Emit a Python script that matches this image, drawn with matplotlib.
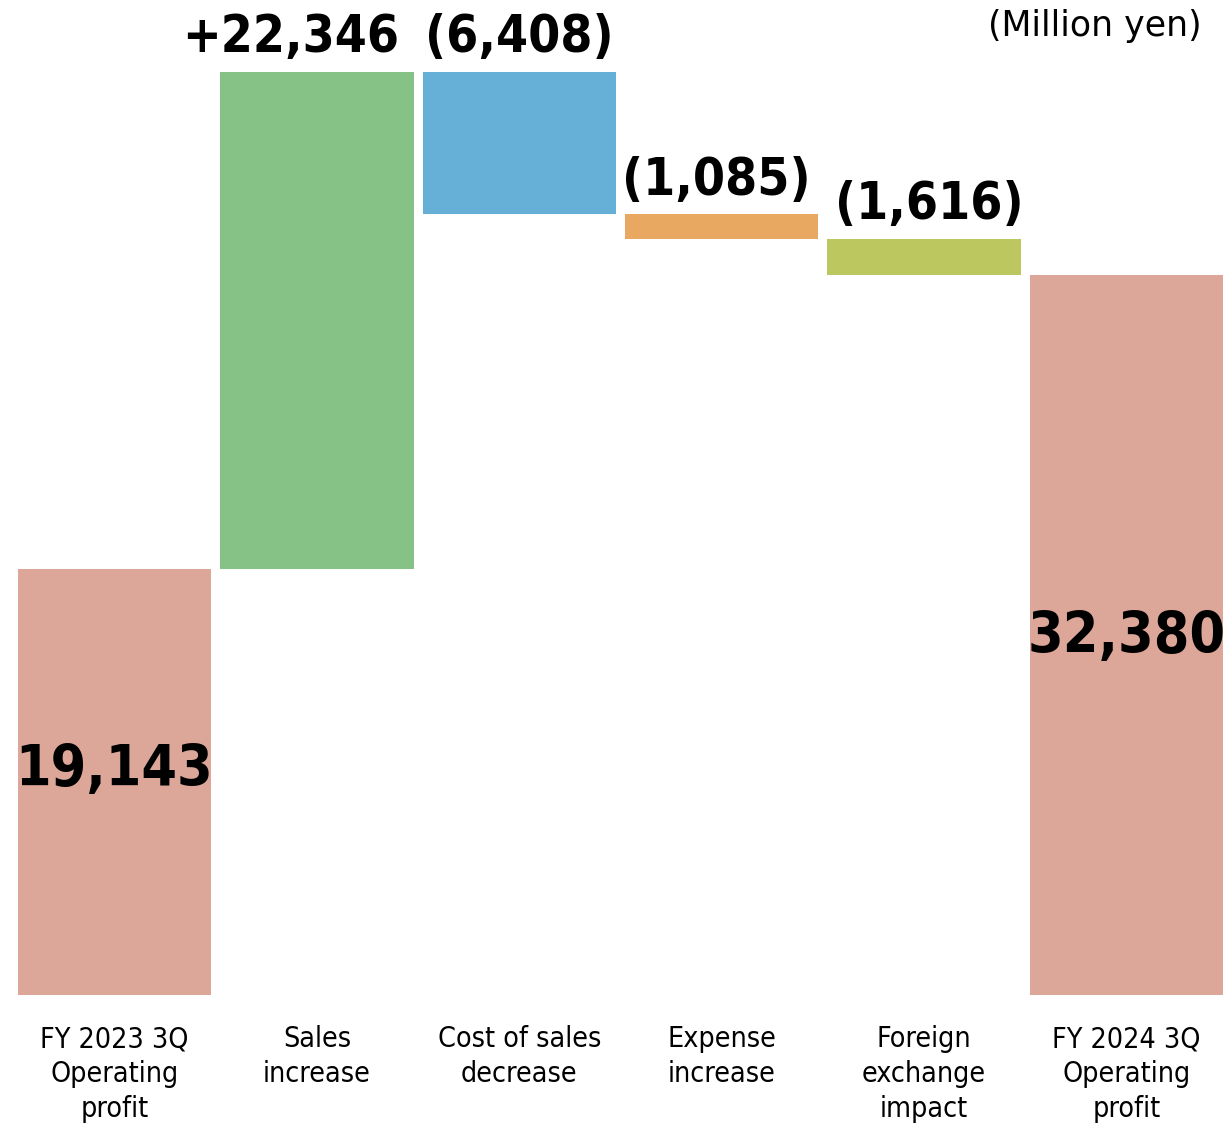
import matplotlib
matplotlib.use("Agg")
import matplotlib.pyplot as plt

categories = ["FY 2023 3Q\nOperating\nprofit", "Sales\nincrease", "Cost of sales\ndecrease",
              "Expense\nincrease", "Foreign\nexchange\nimpact", "FY 2024 3Q\nOperating\nprofit"]
changes = [19143, 22346, -6408, -1085, -1616, 32380]
value_labels = ["19,143", "+22,346", "(6,408)", "(1,085)", "(1,616)", "32,380"]
colors = ["#DCA699", "#86C286", "#66B0D8", "#E8A862", "#BCC85F", "#DCA699"]
unit_label = "(Million yen)"

W, H = 1224, 1123
fig = plt.figure(figsize=(W / 100, H / 100), dpi=100)
ax = fig.add_axes([18 / W, (H - 995) / H, (1223 - 18) / W, 995 / H])
ax.set_xlim(-0.4775, 5.4775)
ax.set_ylim(0, 44720)
ax.axis("off")

bar_w = 0.955
num_font = dict(family="DejaVu Sans", fontstretch="condensed", fontweight="bold", color="black")
# horizontal nudges (points) for the change labels so neighbours don't collide
label_dx = [0, -19, 0, -4, 4, 0]
running = 0
for i, (v, c) in enumerate(zip(changes, colors)):
    total = i == 0 or i == len(changes) - 1
    if total:
        bottom, height = 0, v
        running = v
    else:
        bottom = running if v > 0 else running + v
        height = abs(v)
        running += v
    ax.bar(i, height, bottom=bottom, width=bar_w, color=c, linewidth=0)
    if total:
        ax.annotate(value_labels[i], (i, bottom + height / 2),
                    xytext=(0, 8 if i == 0 else -2), textcoords="offset points",
                    ha="center", va="center", fontsize=41, **num_font)
    else:
        ax.annotate(value_labels[i], (i, bottom + height), xytext=(label_dx[i], 14),
                    textcoords="offset points", ha="center", va="baseline",
                    fontsize=37, **num_font)

for i, lab in enumerate(categories):
    ax.text(i, -1350, lab, ha="center", va="top", fontsize=20.5,
            family="DejaVu Sans", fontstretch="condensed", linespacing=1.32,
            color="black", clip_on=False)

fig.text(1202 / W, 1 - 26 / H, unit_label, ha="right", va="center", fontsize=25,
         family="DejaVu Sans", color="black")

fig.savefig("out.png", dpi=100, facecolor="white")
